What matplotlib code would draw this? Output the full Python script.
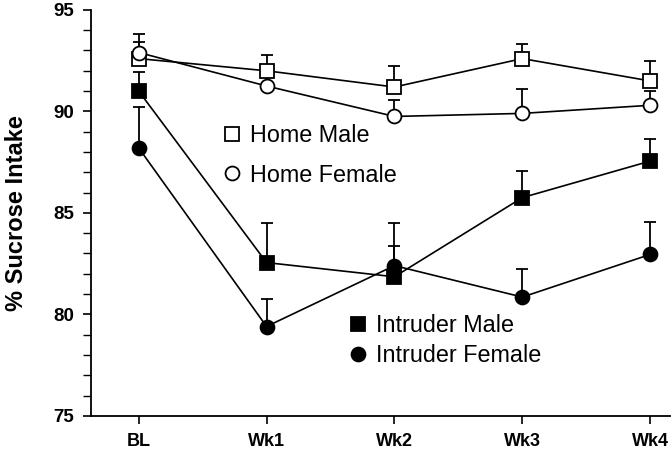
import matplotlib.pyplot as plt
import numpy as np

plt.rcParams['font.family'] = ['Liberation Sans', 'DejaVu Sans']

weeks = ['BL', 'Wk1', 'Wk2', 'Wk3', 'Wk4']

home_male = [92.6, 92.0, 91.2, 92.6, 91.5]
home_male_err = [1.2, 0.8, 1.05, 0.7, 1.0]
home_female = [92.9, 91.25, 89.75, 89.9, 90.3]
home_female_err = [0.5, 0.6, 0.8, 1.2, 0.7]
intr_male = [91.0, 82.55, 81.85, 85.75, 87.55]
intr_male_err = [0.95, 1.95, 1.5, 1.3, 1.1]
intr_female = [88.2, 79.4, 82.4, 80.85, 82.95]
intr_female_err = [2.0, 1.35, 2.1, 1.4, 1.6]

x = np.arange(len(weeks))

fig = plt.figure(figsize=(6.72, 4.5), dpi=100)
ax = fig.add_axes([0.135, 0.076, 0.862, 0.902])

def series(y, e, marker, face, label):
    y = np.array(y)
    e = np.array(e)
    ax.errorbar(x, y, yerr=[np.zeros_like(e), e], fmt='none', ecolor='black',
                elinewidth=1.3, capsize=4.5, capthick=1.3, zorder=2)
    ln, = ax.plot(x, y, color='black', lw=1.2, marker=marker, markersize=10,
                  markerfacecolor=face, markeredgecolor='black',
                  markeredgewidth=1.3, label=label, zorder=3)
    return ln

h1 = series(home_male, home_male_err, 's', 'white', 'Home Male')
h2 = series(home_female, home_female_err, 'o', 'white', 'Home Female')
h3 = series(intr_male, intr_male_err, 's', 'black', 'Intruder Male')
h4 = series(intr_female, intr_female_err, 'o', 'black', 'Intruder Female')

leg1 = ax.legend(handles=[h1, h2], labels=['Home Male', 'Home Female'],
                 loc='center left', bbox_to_anchor=(0.228, 0.642), frameon=False,
                 fontsize=16.8, handlelength=0.75, handletextpad=0.4,
                 labelspacing=0.72, borderpad=0, borderaxespad=0)
for l in leg1.get_lines():
    l.set_linestyle('none')
ax.add_artist(leg1)
leg2 = ax.legend(handles=[h3, h4], labels=['Intruder Male', 'Intruder Female'],
                 loc='center left', bbox_to_anchor=(0.446, 0.185), frameon=False,
                 fontsize=16.8, handlelength=0.75, handletextpad=0.4,
                 labelspacing=0.32, borderpad=0, borderaxespad=0)
for l in leg2.get_lines():
    l.set_linestyle('none')

ax.set_xlim(-0.375, 4.155)
ax.set_ylim(75, 95)
ax.set_xticks(x)
ax.set_xticklabels(weeks, fontweight='bold', fontsize=13)
ax.set_yticks([75, 80, 85, 90, 95])
ax.set_yticks(np.arange(75, 96, 1), minor=True)
for t in ax.get_yticklabels():
    t.set_fontweight('bold')
    t.set_fontsize(13.5)
ax.tick_params(axis='both', which='major', direction='out', length=5.5, width=1.2)
ax.tick_params(axis='y', which='minor', direction='out', length=5.5, width=1)
ax.tick_params(axis='x', pad=7)
ax.tick_params(axis='y', pad=6.5)
ax.set_ylabel('% Sucrose Intake', fontweight='bold', fontsize=17, labelpad=18)

ax.spines['top'].set_visible(False)
ax.spines['right'].set_visible(False)
ax.spines['left'].set_linewidth(1.3)
ax.spines['bottom'].set_linewidth(1.3)

fig.savefig('out.png', dpi=100)
